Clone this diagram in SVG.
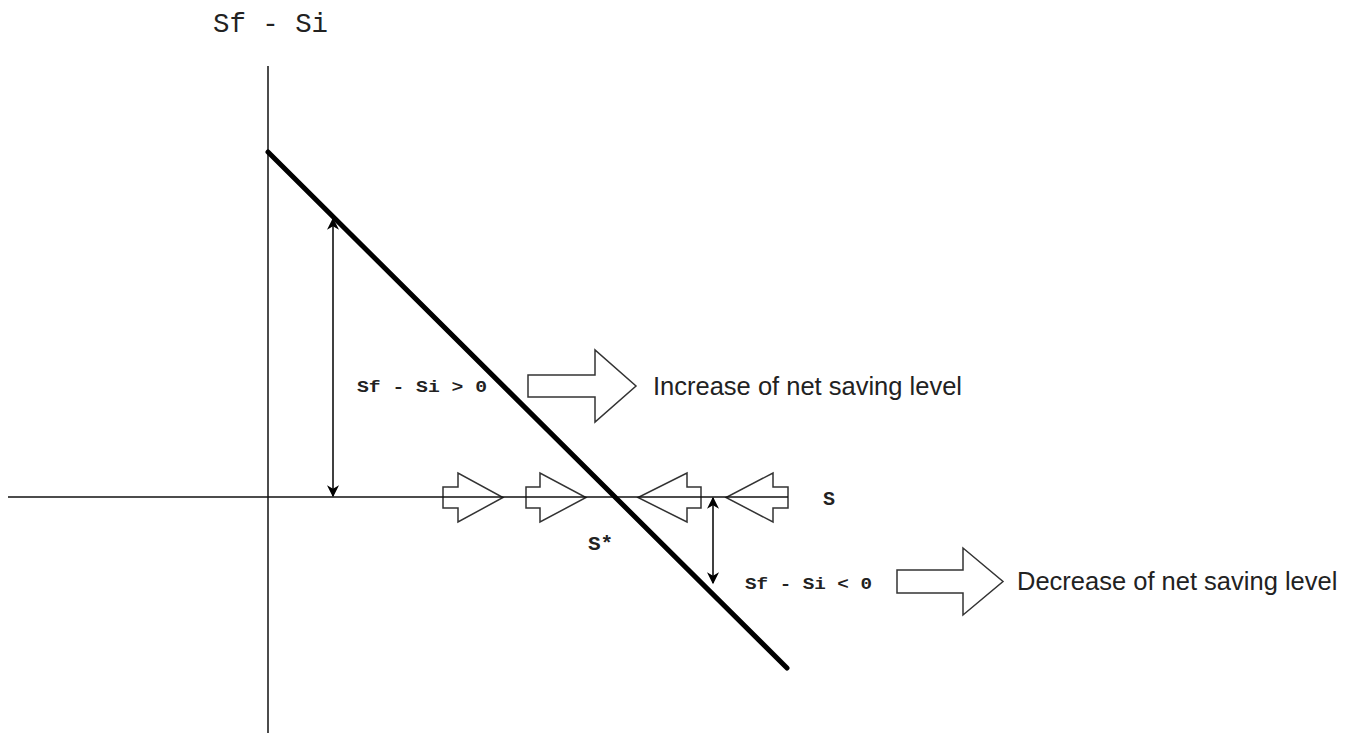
<svg xmlns="http://www.w3.org/2000/svg" width="1353" height="733" viewBox="0 0 1353 733">
<style>
.axis{stroke:#111;stroke-width:1.5;fill:none}
.curve{stroke:#000;stroke-width:5;fill:none;stroke-linecap:round}
.dim{stroke:#000;stroke-width:1.5;fill:none}
.blk{fill:#fff;stroke:#333;stroke-width:1.5;stroke-linejoin:miter}
.blk2{fill:none;stroke:#333;stroke-width:1.5;stroke-linejoin:miter}
.mono{font-family:"Liberation Mono","Courier New",monospace;fill:#222}
.sans{font-family:"Liberation Sans",Arial,sans-serif;fill:#222;font-size:25.5px}
</style>
<defs>
<marker id="ah" viewBox="0 0 10 10" refX="9" refY="5" markerWidth="13" markerHeight="12" markerUnits="userSpaceOnUse" orient="auto-start-reverse">
<path d="M0,0 L10,5 L0,10 L3,5 z" fill="#000"/>
</marker>
</defs>
<rect width="1353" height="733" fill="#fff"/>
<g id="axis-arrows">
<polygon class="blk2" points="443,487 458,487 458,473 503,497.5 458,522 458,508 443,508"/>
<polygon class="blk2" points="526,487 540,487 540,473 586,497.5 540,522 540,508 526,508"/>
<polygon class="blk2" points="701,487 687,487 687,473 638,497.5 687,522 687,508 701,508"/>
<polygon class="blk2" points="788,487 773,487 773,473 726,497.5 773,522 773,508 788,508"/>
</g>
<g id="axes">
<line class="axis" x1="268" y1="66" x2="268" y2="733"/>
<line class="axis" x1="8" y1="497" x2="788" y2="497"/>
<text class="mono" x="213" y="32" font-size="27" textLength="115" lengthAdjust="spacingAndGlyphs">Sf - Si</text>
<text class="mono" x="823" y="505" font-size="20" font-weight="bold">S</text>
</g>
<g id="curve">
<line class="curve" x1="268" y1="152" x2="787" y2="668"/>
<text class="mono" x="588" y="550" font-size="21" font-weight="bold">S*</text>
</g>
<g id="connectors">
<line class="dim" x1="333" y1="219" x2="333" y2="496" marker-start="url(#ah)" marker-end="url(#ah)"/>
<line class="dim" x1="713" y1="498" x2="713" y2="583" marker-start="url(#ah)" marker-end="url(#ah)"/>
</g>
<g id="increase">
<polygon class="blk" points="528,375 595,375 595,350 636,386 595,422 595,397 528,397"/>
<text class="mono" x="357" y="392" font-size="17" font-weight="bold" textLength="130" lengthAdjust="spacingAndGlyphs">Sf - Si &gt; 0</text>
<text class="sans" x="653" y="395">Increase of net saving level</text>
</g>
<g id="decrease">
<polygon class="blk" points="897,570 963,570 963,548 1003,581.5 963,615 963,593 897,593"/>
<text class="mono" x="745" y="589" font-size="17" font-weight="bold" textLength="127" lengthAdjust="spacingAndGlyphs">Sf - Si &lt; 0</text>
<text class="sans" x="1017" y="590">Decrease of net saving level</text>
</g>
</svg>
